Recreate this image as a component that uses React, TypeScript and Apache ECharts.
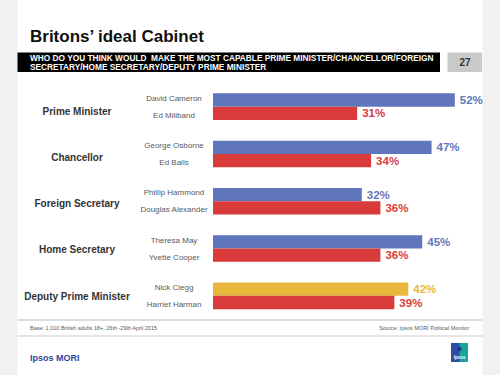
import React, { useEffect, useRef } from "react";
import * as echarts from "echarts";

const roles = ["Prime Minister", "Chancellor", "Foreign Secretary", "Home Secretary", "Deputy Prime Minister"];
const firstNames = ["David Cameron", "George Osborne", "Phillip Hammond", "Theresa May", "Nick Clegg"];
const secondNames = ["Ed Miliband", "Ed Balls", "Douglas Alexander", "Yvette Cooper", "Harriet Harman"];
const firstValues = [52, 47, 32, 45, 42];
const secondValues = [31, 34, 36, 36, 39];
const highlightIndex = 4; // Lib Dem candidate shown in yellow

const BLUE = "#5f75bc";
const RED = "#d93b3b";
const YELLOW = "#e8b83c";
const FONT = "'Liberation Sans', Arial, sans-serif";

export default function App() {
  const ref = useRef<HTMLDivElement>(null);
  useEffect(() => {
    if (!ref.current) return;
    const chart = echarts.init(ref.current, null, { renderer: "svg" });
    const option: any = {
      animation: false,
      backgroundColor: "#f1f1f1",
      textStyle: { fontFamily: FONT },
      grid: [
        { left: 213, right: 8, top: 83, bottom: 55.5, containLabel: false },
        { left: 213, right: 8, top: 88.6, bottom: 55.9, containLabel: false },
      ],
      xAxis: [
        { type: "value", min: 0, max: 60, show: false, gridIndex: 0 },
        { type: "value", min: 0, max: 60, show: false, gridIndex: 1 },
      ],
      yAxis: [
        {
          type: "category",
          gridIndex: 0,
          inverse: true,
          data: firstNames.map((n, i) => n + "\n" + secondNames[i]),
          axisLine: { show: false },
          axisTick: { show: false },
          axisLabel: {
            align: "center",
            margin: 39,
            lineHeight: 17,
            fontSize: 8,
            color: "#595959",
            fontFamily: FONT,
          },
        },
        {
          type: "category",
          gridIndex: 1,
          inverse: true,
          position: "left",
          data: roles,
          axisLine: { show: false },
          axisTick: { show: false },
          axisLabel: {
            align: "center",
            margin: 136,
            fontSize: 10,
            fontWeight: "bold",
            color: "#333333",
            fontFamily: FONT,
          },
        },
      ],
      series: [
        {
          type: "bar",
          xAxisIndex: 0,
          yAxisIndex: 0,
          barWidth: 13.3,
          barGap: "0%",
          data: firstValues.map((v, i) =>
            i === highlightIndex
              ? { value: v, itemStyle: { color: YELLOW }, label: { color: YELLOW } }
              : v
          ),
          itemStyle: { color: BLUE },
          label: {
            show: true,
            position: "right",
            distance: 5,
            formatter: "{c}%",
            fontSize: 11.5,
            fontWeight: "bold",
            color: BLUE,
            fontFamily: FONT,
          },
        },
        {
          type: "bar",
          xAxisIndex: 0,
          yAxisIndex: 0,
          barWidth: 13.3,
          barGap: "0%",
          data: secondValues,
          itemStyle: { color: RED },
          label: {
            show: true,
            position: "right",
            distance: 5,
            formatter: "{c}%",
            fontSize: 11.5,
            fontWeight: "bold",
            color: RED,
            fontFamily: FONT,
          },
        },
      ],
      graphic: [
        { type: "rect", z: -10, shape: { x: 17.5, y: 0, width: 465, height: 375 }, style: { fill: "#ffffff" } },
        {
          type: "text", z: 10, x: 30, y: 45,
          style: { text: "Britons’ ideal Cabinet", font: "bold 17px " + FONT, fill: "#111111", textVerticalAlign: "bottom" },
        },
        { type: "rect", z: 5, shape: { x: 17.5, y: 52.5, width: 422.5, height: 19.5 }, style: { fill: "#000000" } },
        {
          type: "text", z: 10, x: 30, y: 53,
          style: {
            text: "WHO DO YOU THINK WOULD  MAKE THE MOST CAPABLE PRIME MINISTER/CHANCELLOR/FOREIGN\nSECRETARY/HOME SECRETARY/DEPUTY PRIME MINISTER",
            font: "bold 8.3px " + FONT, fill: "#ffffff", lineHeight: 9,
          },
        },
        { type: "rect", z: 5, shape: { x: 447.5, y: 52.5, width: 34.5, height: 19.5 }, style: { fill: "#c9c9c9" } },
        {
          type: "text", z: 10, x: 465, y: 62.5,
          style: { text: "27", font: "bold 10px " + FONT, fill: "#333333", textAlign: "center", textVerticalAlign: "middle" },
        },
        { type: "line", z: 5, shape: { x1: 17.5, y1: 320, x2: 482.5, y2: 320 }, style: { stroke: "#dddddd", lineWidth: 2 } },
        { type: "line", z: 5, shape: { x1: 17.5, y1: 336, x2: 482.5, y2: 336 }, style: { stroke: "#dddddd", lineWidth: 1.5 } },
        {
          type: "text", z: 10, x: 30, y: 328,
          style: { text: "Base: 1,010 British adults 18+, 26th -29th April 2015", font: "5.5px " + FONT, fill: "#595959", textVerticalAlign: "middle" },
        },
        {
          type: "text", z: 10, x: 469, y: 328,
          style: { text: "Source: Ipsos MORI Political Monitor", font: "5.5px " + FONT, fill: "#595959", textAlign: "right", textVerticalAlign: "middle" },
        },
        {
          type: "text", z: 10, x: 30, y: 358,
          style: { text: "Ipsos MORI", font: "bold 9px " + FONT, fill: "#33449a", textVerticalAlign: "middle" },
        },
        {
          type: "rect", z: 5, shape: { x: 451, y: 343, width: 17, height: 19 },
          style: {
            fill: new echarts.graphic.LinearGradient(0, 0, 1, 0, [
              { offset: 0, color: "#2b4ea3" },
              { offset: 0.45, color: "#2b4ea3" },
              { offset: 0.55, color: "#17a59b" },
              { offset: 1, color: "#17a59b" },
            ]),
          },
        },
        { type: "circle", z: 10, shape: { cx: 459.5, cy: 349, r: 2.2 }, style: { fill: "#1a3a8a" } },
        {
          type: "text", z: 10, x: 459.5, y: 357.5,
          style: { text: "Ipsos", font: "bold 4.5px " + FONT, fill: "#ffffff", textAlign: "center", textVerticalAlign: "middle" },
        },
      ],
    };
    chart.setOption(option);
    return () => chart.dispose();
  }, []);
  return <div ref={ref} style={{ position: "fixed", left: 0, top: 0, width: 500, height: 375 }} />;
}
